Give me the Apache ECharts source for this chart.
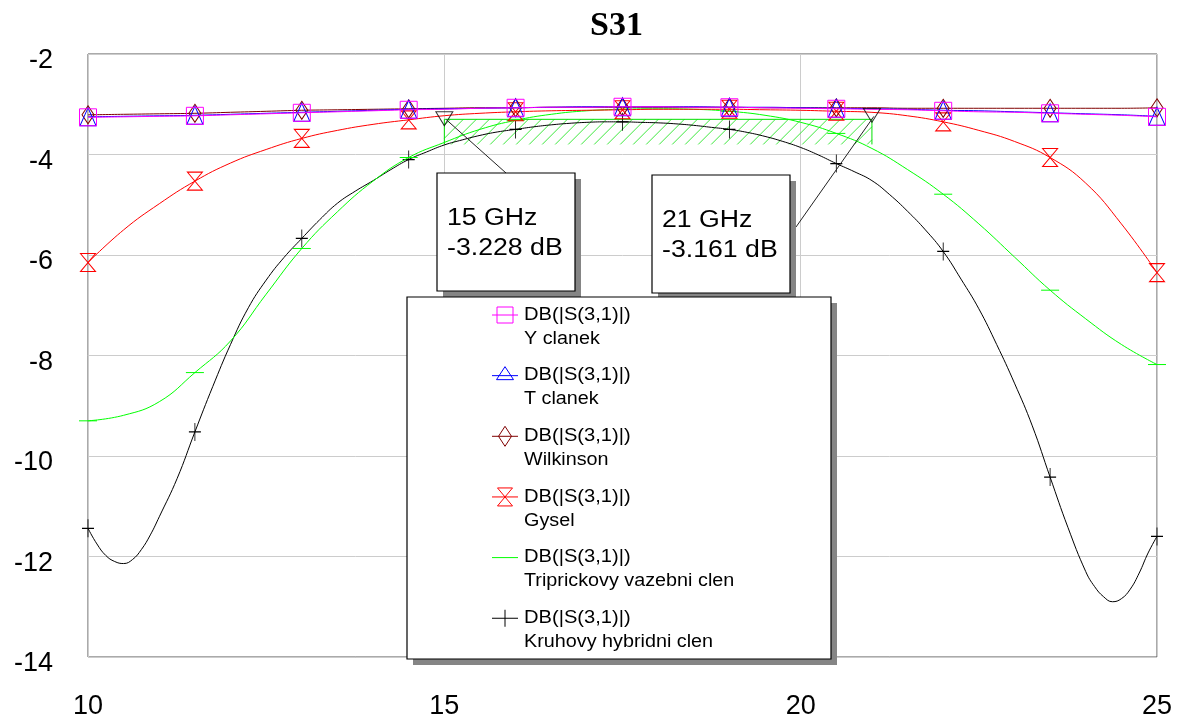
<!DOCTYPE html>
<html>
<head>
<meta charset="utf-8">
<script src="https://cdn.jsdelivr.net/npm/echarts@6/dist/echarts.min.js"></script>
<style>
  html, body { margin: 0; padding: 0; background: #ffffff; }
  #chart { width: 1182px; height: 721px; }
</style>
</head>
<body>
<div id="chart"></div>
<script>
// Frequency grid (GHz) shared by most traces
const freq = [10, 10.5, 11, 11.5, 12, 12.5, 13, 13.5, 14, 14.5, 15, 15.5, 16, 16.5, 17, 17.5,
              18, 18.5, 19, 19.5, 20, 20.5, 21, 21.5, 22, 22.5, 23, 23.5, 24, 24.5, 25];

// DB(|S(3,1)|) per coupler type, in dB
const yClanek = [-3.26, -3.25, -3.24, -3.23, -3.21, -3.19, -3.17, -3.15, -3.13, -3.11, -3.10, -3.08,
                 -3.07, -3.06, -3.06, -3.05, -3.05, -3.06, -3.06, -3.07, -3.08, -3.09, -3.10, -3.11,
                 -3.13, -3.15, -3.16, -3.18, -3.20, -3.22, -3.25];
const tClanek = [-3.25, -3.24, -3.23, -3.22, -3.20, -3.18, -3.16, -3.14, -3.12, -3.10, -3.09, -3.08,
                 -3.07, -3.06, -3.05, -3.05, -3.05, -3.05, -3.06, -3.06, -3.07, -3.08, -3.09, -3.10,
                 -3.12, -3.13, -3.15, -3.17, -3.19, -3.21, -3.24];
const wilkinson = [-3.21, -3.20, -3.19, -3.18, -3.16, -3.14, -3.12, -3.11, -3.10, -3.09, -3.08, -3.07,
                   -3.07, -3.06, -3.06, -3.06, -3.06, -3.06, -3.06, -3.07, -3.07, -3.07, -3.07, -3.08,
                   -3.08, -3.08, -3.08, -3.08, -3.08, -3.08, -3.07];
const gysel = [-6.15, -5.50, -4.98, -4.53, -4.17, -3.90, -3.68, -3.52, -3.40, -3.31, -3.228, -3.18,
               -3.15, -3.13, -3.12, -3.11, -3.10, -3.10, -3.10, -3.11, -3.12, -3.14, -3.161, -3.23,
               -3.35, -3.52, -3.74, -4.06, -4.57, -5.38, -6.35];
const triprickovy = [-9.30, -9.19, -8.92, -8.34, -7.71, -6.78, -5.87, -5.14, -4.53, -4.06, -3.76, -3.50,
                     -3.32, -3.20, -3.13, -3.10, -3.09, -3.10, -3.14, -3.22, -3.36, -3.58, -3.88, -4.30,
                     -4.79, -5.38, -6.04, -6.70, -7.27, -7.78, -8.18];

// The ring hybrid trace has sharp minima, so it is sampled more finely
const kruhovyFreq = [10, 10.125, 10.25, 10.375, 10.5, 10.625, 10.75, 10.875, 11, 11.25, 11.5, 11.75,
                     12, 12.25, 12.5, 12.75, 13, 13.25, 13.5, 13.75, 14, 14.25, 14.5, 14.75, 15, 15.25,
                     15.5, 15.75, 16, 16.25, 16.5, 16.75, 17, 17.25, 17.5, 17.75, 18, 18.25, 18.5, 18.75,
                     19, 19.25, 19.5, 19.75, 20, 20.25, 20.5, 20.75, 21, 21.25, 21.5, 21.75, 22, 22.25,
                     22.5, 22.75, 23, 23.25, 23.5, 23.75, 24, 24.125, 24.25, 24.375, 24.5, 24.625, 24.75,
                     24.875, 25];
const kruhovy = [-11.44, -11.75, -11.98, -12.10, -12.14, -12.06, -11.86, -11.57, -11.21, -10.45, -9.52, -8.62,
                 -7.78, -7.05, -6.50, -6.05, -5.67, -5.30, -4.97, -4.73, -4.52, -4.30, -4.10, -3.95,
                 -3.81, -3.71, -3.62, -3.55, -3.50, -3.45, -3.41, -3.38, -3.36, -3.35, -3.35, -3.36,
                 -3.37, -3.39, -3.42, -3.46, -3.50, -3.56, -3.64, -3.74, -3.86, -4.01, -4.18, -4.34,
                 -4.52, -4.80, -5.13, -5.50, -5.93, -6.48, -7.07, -7.78, -8.55, -9.40, -10.42, -11.42,
                 -12.30, -12.60, -12.80, -12.90, -12.84, -12.65, -12.33, -11.93, -11.60];

// Frequencies where trace symbols are drawn
const markerFreq = [10, 11.5, 13, 14.5, 16, 17.5, 19, 20.5, 22, 23.5, 25];

// Legend text
const traceLabel = 'DB(|S(3,1)|)';
const seriesNames = ['Y clanek', 'T clanek', 'Wilkinson', 'Gysel', 'Triprickovy vazebni clen', 'Kruhovy hybridni clen'];

// Axis ticks
const xTicks = [10, 15, 20, 25];
const yTicks = [-14, -12, -10, -8, -6, -4, -2];

// Readout markers on the Gysel trace: [GHz, dB]
const markerPoints = [[15, -3.228], [21, -3.161]];

// Optimisation goal band: [from GHz, to GHz, level dB, hatch depth dB]
const goalBand = [[15, 21, -3.3, -3.8]];

const colors = ['#ff00ff', '#0000ff', '#800000', '#ff0000', '#00ff00', '#000000'];
const FONT = '"Liberation Sans", Arial, sans-serif';

const pairs = (xs, ys) => xs.map((x, i) => [x, ys[i]]);
const atMarker = sym => v => (markerFreq.indexOf(v[0]) >= 0 ? sym : 'none');

function trace(i, xs, ys, sym, size, filled) {
  return {
    name: seriesNames[i],
    type: 'line',
    data: pairs(xs, ys),
    smooth: 0.45,
    symbol: atMarker(sym),
    symbolSize: size,
    showSymbol: true,
    showAllSymbol: true,
    lineStyle: { color: colors[i], width: 1 },
    itemStyle: filled
      ? { color: colors[i], borderWidth: 0 }
      : { color: 'rgba(0,0,0,0)', borderColor: colors[i], borderWidth: 1 },
    emphasis: { disabled: true },
    z: 3 + (5 - i) * 0.01
  };
}

const chart = echarts.init(document.getElementById('chart'), null, { renderer: 'canvas' });

const option = {
  animation: false,
  backgroundColor: '#ffffff',
  title: {
    text: 'S31',
    left: 590,
    top: 9,
    padding: 0,
    textStyle: { fontFamily: '"Liberation Serif", "Times New Roman", serif', fontWeight: 'bold', fontSize: 34, color: '#000' }
  },
  grid: {
    left: 88, right: 25, top: 54, bottom: 64,
    show: true, borderColor: '#555555', borderWidth: 1, backgroundColor: 'transparent'
  },
  xAxis: {
    type: 'value',
    min: xTicks[0], max: xTicks[xTicks.length - 1], interval: xTicks[1] - xTicks[0],
    axisLine: { show: false },
    axisTick: { show: false },
    axisLabel: { color: '#000', fontFamily: FONT, fontSize: 27, margin: 36, showMinLabel: true, showMaxLabel: true },
    splitLine: { show: true, lineStyle: { color: '#cccccc', width: 1 } }
  },
  yAxis: {
    type: 'value',
    min: yTicks[0], max: yTicks[yTicks.length - 1], interval: yTicks[1] - yTicks[0],
    axisLine: { show: false },
    axisTick: { show: false },
    axisLabel: { color: '#000', fontFamily: FONT, fontSize: 27, margin: 35, verticalAlign: 'top', lineHeight: 14 },
    splitLine: { show: true, lineStyle: { color: '#cccccc', width: 1 } }
  },
  series: [
    {
      name: 'goal',
      type: 'custom',
      data: goalBand,
      z: 1,
      silent: true,
      renderItem(params, api) {
        const p0 = api.coord([api.value(0), api.value(2)]);
        const p1 = api.coord([api.value(1), api.value(3)]);
        const x0 = p0[0], y0 = p0[1], x1 = p1[0], y1 = p1[1];
        const h = y1 - y0;
        const children = [];
        for (let s = x0 - h + 6; s < x1; s += 13) {
          let ax = s, ay = y1, bx = s + h, by = y0;
          if (ax < x0) { ay = y1 - (x0 - ax); ax = x0; }
          if (bx > x1) { by = y0 + (bx - x1); bx = x1; }
          if (bx <= ax) continue;
          children.push({ type: 'line', shape: { x1: ax, y1: ay, x2: bx, y2: by },
                          style: { stroke: '#3ee83e', lineWidth: 1 } });
        }
        children.push({ type: 'polyline', shape: { points: [[x0, y1], [x0, y0], [x1, y0], [x1, y1]] },
                        style: { stroke: '#00e000', lineWidth: 1, fill: null } });
        return { type: 'group', children };
      }
    },
    trace(0, freq, yClanek, 'rect', [17, 17], false),
    trace(1, freq, tClanek, 'triangle', [16, 18], false),
    trace(2, freq, wilkinson, 'diamond', [12, 18], false),
    trace(3, freq, gysel, 'path://M0,0L10,0L0,12L10,12Z', [15, 18], false),
    trace(4, freq, triprickovy, 'rect', [18, 1], true),
    trace(5, kruhovyFreq, kruhovy, 'path://M5,0L5,10M0,5L10,5', [12, 18], false),
    {
      name: 'markers',
      type: 'scatter',
      data: markerPoints,
      symbol: 'path://M0,0L10,0L5,9Z',
      symbolSize: [17, 14],
      symbolOffset: [0, 3],
      itemStyle: { color: 'rgba(0,0,0,0)', borderColor: '#000', borderWidth: 1 },
      emphasis: { disabled: true },
      silent: true,
      z: 6
    }
  ]
};

chart.setOption(option);

// Annotation boxes and the legend panel
function box(x, y, w, h) {
  return [
    { type: 'rect', shape: { x: x + 6, y: y + 6, width: w, height: h }, style: { fill: '#858585' }, z: 100 },
    { type: 'rect', shape: { x: x, y: y, width: w, height: h }, style: { fill: '#ffffff', stroke: '#000', lineWidth: 1.2 }, z: 101 }
  ];
}

function text(x, y, str, size, sx) {
  return { type: 'text', x: x, y: y, scaleX: sx, z: 102,
           style: { text: str, fill: '#000', font: size + 'px ' + FONT, align: 'left', verticalAlign: 'middle' } };
}

function legendSymbol(kind, cx, cy, color) {
  const st = { fill: null, stroke: color, lineWidth: 1 };
  const els = [{ type: 'line', z: 102, shape: { x1: cx - 13, y1: cy, x2: cx + 13, y2: cy }, style: { stroke: color, lineWidth: 1 } }];
  if (kind === 'square') els.push({ type: 'rect', z: 102, shape: { x: cx - 8, y: cy - 8, width: 16, height: 16 }, style: st });
  if (kind === 'triangle') els.push({ type: 'polygon', z: 102, shape: { points: [[cx, cy - 9], [cx + 8.5, cy + 4], [cx - 8.5, cy + 4]] }, style: st });
  if (kind === 'diamond') els.push({ type: 'polygon', z: 102, shape: { points: [[cx, cy - 10], [cx + 6.5, cy], [cx, cy + 10], [cx - 6.5, cy]] }, style: st });
  if (kind === 'hourglass') els.push({ type: 'polygon', z: 102, shape: { points: [[cx - 7.5, cy - 9], [cx + 7.5, cy - 9], [cx - 7.5, cy + 9], [cx + 7.5, cy + 9]] }, style: st });
  if (kind === 'plus') els.push({ type: 'line', z: 102, shape: { x1: cx, y1: cy - 8.5, x2: cx, y2: cy + 8.5 }, style: { stroke: color, lineWidth: 1 } });
  return els;
}

const legendKinds = ['square', 'triangle', 'diamond', 'hourglass', 'none', 'plus'];
const mpx = markerPoints.map(p => chart.convertToPixel({ gridIndex: 0 }, p));

const g = [];
// readout callouts
const callouts = [
  { x: 437, y: 173, anchor: [506, 173] },
  { x: 652, y: 175, anchor: [796, 227] }
];
callouts.forEach((c, i) => {
  const [f, db] = markerPoints[i];
  g.push({ type: 'line', z: 99, shape: { x1: c.anchor[0], y1: c.anchor[1], x2: mpx[i][0] + 2, y2: mpx[i][1] + 4 },
           style: { stroke: '#222', lineWidth: 1 } });
  g.push(...box(c.x, c.y, 138, 118));
  g.push(text(c.x + 10, c.y + 46, f + ' GHz', 23, 1.16));
  g.push(text(c.x + 10, c.y + 76, db.toFixed(3) + ' dB', 23, 1.16));
});

// legend panel
g.push(...box(407, 297, 424, 362));
seriesNames.forEach((name, i) => {
  const cy = 315 + i * 60.65;
  g.push(...legendSymbol(legendKinds[i], 505, cy, colors[i]));
  g.push(text(524, cy, traceLabel, 17.5, 1.15));
  g.push(text(524, cy + 24, name, 17.5, 1.13));
});

chart.setOption({ graphic: { elements: g } });
</script>
</body>
</html>
